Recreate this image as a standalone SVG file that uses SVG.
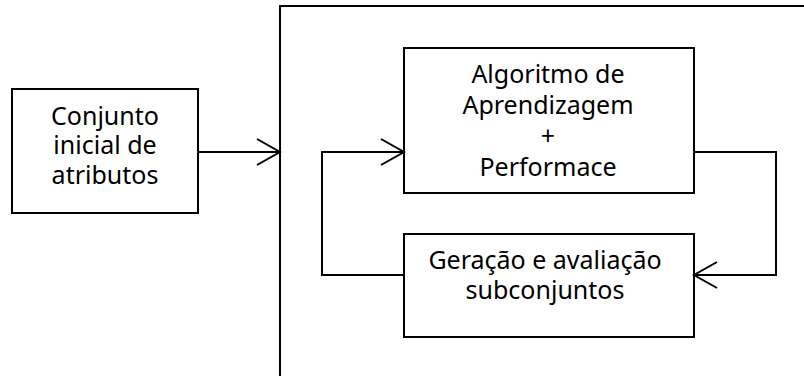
<svg xmlns="http://www.w3.org/2000/svg" width="804" height="376" viewBox="0 0 804 376">
<defs>
<style>
.box{fill:#fff;stroke:#000;stroke-width:2}
.lbl{font-family:"Noto Sans","Open Sans","DejaVu Sans",sans-serif;font-size:25px;fill:#000;text-anchor:middle}
.conn{fill:none;stroke:#000;stroke-width:2}
</style>
<marker id="arr" markerUnits="userSpaceOnUse" markerWidth="30" markerHeight="30" viewBox="-26 -15 28 30" refX="0" refY="0" orient="auto" overflow="visible">
<path d="M-23,-13 L0,0 L-23,13" fill="none" stroke="#000" stroke-width="2"/>
</marker>
</defs>
<rect width="804" height="376" fill="#fff"/>
<g id="outer">
<rect class="box" x="280" y="6" width="600" height="500"/>
</g>
<g id="node-inicial">
<rect class="box" x="12" y="89" width="186" height="124"/>
<text class="lbl" x="105" y="125">Conjunto</text>
<text class="lbl" x="105" y="154">inicial de</text>
<text class="lbl" x="105" y="184">atributos</text>
</g>
<g id="node-algoritmo">
<rect class="box" x="404" y="48" width="290" height="145"/>
<text class="lbl" x="548" y="83">Algoritmo de</text>
<text class="lbl" x="548" y="114">Aprendizagem</text>
<text class="lbl" x="548" y="145">+</text>
<text class="lbl" x="548" y="176">Performace</text>
</g>
<g id="node-geracao">
<rect class="box" x="404" y="234" width="290" height="103"/>
<text class="lbl" x="545" y="269">Geração e avaliação</text>
<text class="lbl" x="545" y="299">subconjuntos</text>
</g>
<g id="connectors">
<path class="conn" d="M198,152 L280,152" marker-end="url(#arr)"/>
<path class="conn" d="M404,275 L322,275 L322,152 L404,152" marker-end="url(#arr)"/>
<path class="conn" d="M694,152 L776,152 L776,275 L694,275" marker-end="url(#arr)"/>
</g>
</svg>
